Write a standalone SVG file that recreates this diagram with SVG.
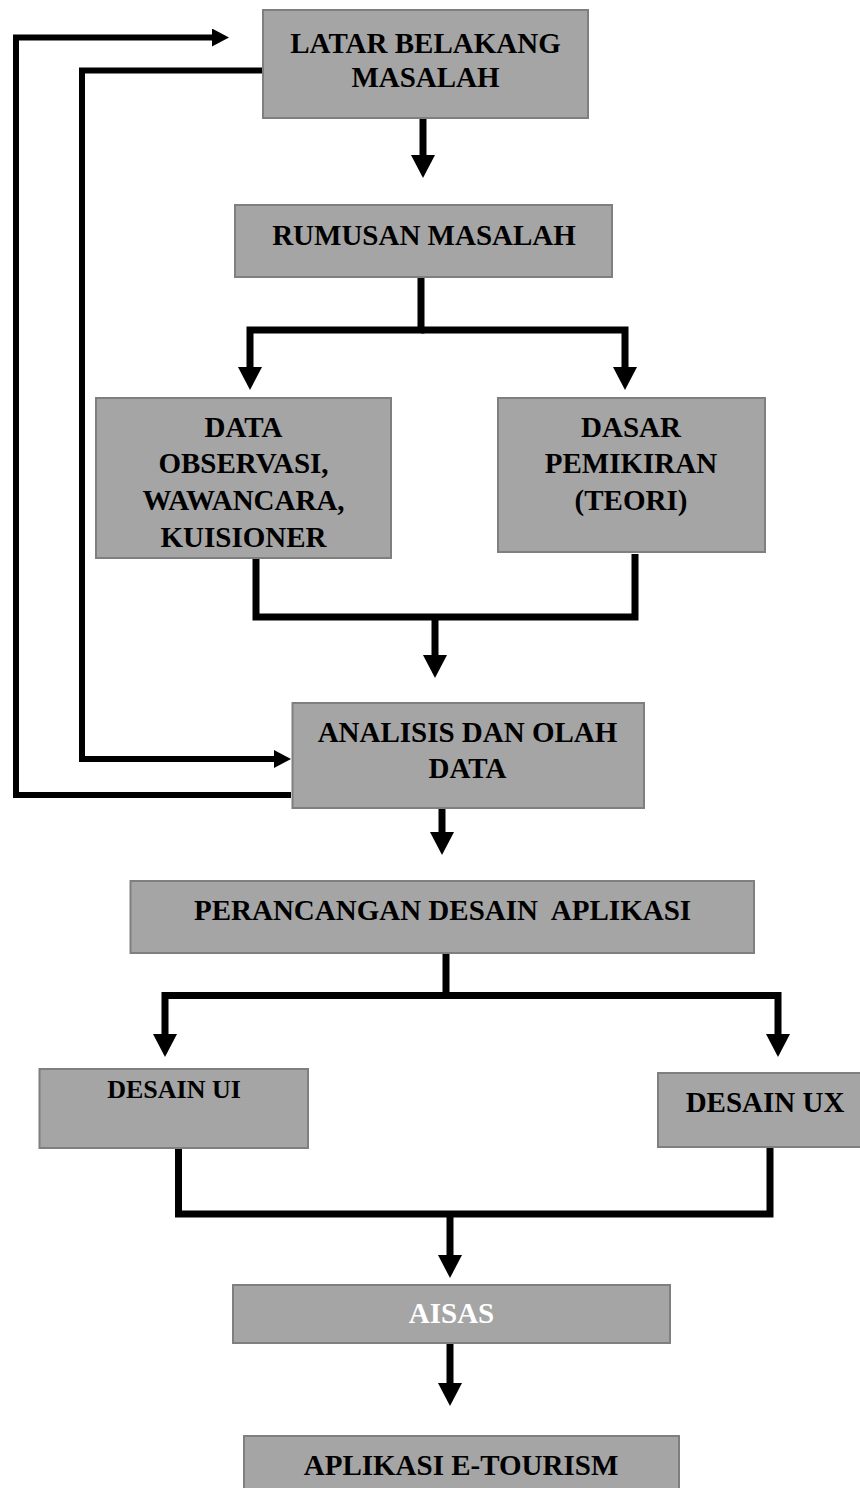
<svg xmlns="http://www.w3.org/2000/svg" width="860" height="1488" viewBox="0 0 860 1488">
<style>
.box{fill:#a5a5a5;stroke:#7f7f7f;stroke-width:2}
.t{font-family:"Liberation Serif","Times New Roman",serif;font-weight:bold;font-size:29px;fill:#000;text-anchor:middle}
.w{fill:#fff}
.main{fill:none;stroke:#000;stroke-width:7;stroke-linejoin:miter}
.loop{fill:none;stroke:#000;stroke-width:6;stroke-linejoin:miter}
</style>
<defs>
<marker id="ah" markerUnits="userSpaceOnUse" markerWidth="24" markerHeight="24" viewBox="0 0 24 24" refX="0" refY="12" orient="auto"><path d="M0,0 L23,12 L0,24 z" fill="#000"/></marker>
<marker id="ahs" markerUnits="userSpaceOnUse" markerWidth="18" markerHeight="18" viewBox="0 0 18 18" refX="0" refY="9" orient="auto"><path d="M0,0 L17,9 L0,18 z" fill="#000"/></marker>
</defs>
<rect width="860" height="1488" fill="#fff"/>
<g id="connectors">
<path class="main" d="M423,118 V155" marker-end="url(#ah)"/>
<path class="main" d="M421,277 V330 H250 V367" marker-end="url(#ah)"/>
<path class="main" d="M421,330 H625 V367" marker-end="url(#ah)"/>
<path class="main" d="M256,558 V617 H635 V554"/>
<path class="main" d="M435,617 V655" marker-end="url(#ah)"/>
<path class="main" d="M442,808 V832" marker-end="url(#ah)"/>
<path class="main" d="M446,953 V995.5 H165 V1034" marker-end="url(#ah)"/>
<path class="main" d="M446,995.5 H778 V1034" marker-end="url(#ah)"/>
<path class="main" d="M178.5,1148 V1214 H770 V1147"/>
<path class="main" d="M450,1214 V1255" marker-end="url(#ah)"/>
<path class="main" d="M450,1343 V1383" marker-end="url(#ah)"/>
<path class="loop" d="M291,795 H16 V37.5 H212" marker-end="url(#ahs)"/>
<path class="loop" d="M263,70.5 H82 V759 H274" marker-end="url(#ahs)"/>
</g>
<g id="latar">
<rect class="box" x="263" y="10" width="325" height="108"/>
<text class="t" x="425.5" y="53">LATAR BELAKANG</text>
<text class="t" x="425.5" y="87">MASALAH</text>
</g>
<g id="rumusan">
<rect class="box" x="235" y="205" width="377" height="72"/>
<text class="t" x="424" y="245">RUMUSAN MASALAH</text>
</g>
<g id="data">
<rect class="box" x="96" y="398" width="295" height="160"/>
<text class="t" x="243.5" y="437">DATA</text>
<text class="t" x="243.5" y="473">OBSERVASI,</text>
<text class="t" x="243.5" y="510">WAWANCARA,</text>
<text class="t" x="243.5" y="547">KUISIONER</text>
</g>
<g id="dasar">
<rect class="box" x="498" y="398" width="267" height="154"/>
<text class="t" x="631" y="437">DASAR</text>
<text class="t" x="631" y="473">PEMIKIRAN</text>
<text class="t" x="631" y="510">(TEORI)</text>
</g>
<g id="analisis">
<rect class="box" x="292.5" y="703" width="351.5" height="105"/>
<text class="t" x="467.5" y="742">ANALISIS DAN OLAH</text>
<text class="t" x="467.5" y="778">DATA</text>
</g>
<g id="perancangan">
<rect class="box" x="130.5" y="881" width="623.5" height="72"/>
<text class="t" x="442.5" y="920" xml:space="preserve">PERANCANGAN DESAIN  APLIKASI</text>
</g>
<g id="desain-ui">
<rect class="box" x="39.5" y="1069" width="268.5" height="79"/>
<text class="t" x="174" y="1098" style="font-size:26px">DESAIN UI</text>
</g>
<g id="desain-ux">
<rect class="box" x="658" y="1073" width="204" height="74"/>
<text class="t" x="765" y="1112">DESAIN UX</text>
</g>
<g id="aisas">
<rect class="box" x="233" y="1285" width="437" height="58"/>
<text class="t w" x="451.5" y="1323">AISAS</text>
</g>
<g id="aplikasi">
<rect class="box" x="244" y="1436" width="435" height="60"/>
<text class="t" x="461" y="1475">APLIKASI E-TOURISM</text>
</g>
</svg>
